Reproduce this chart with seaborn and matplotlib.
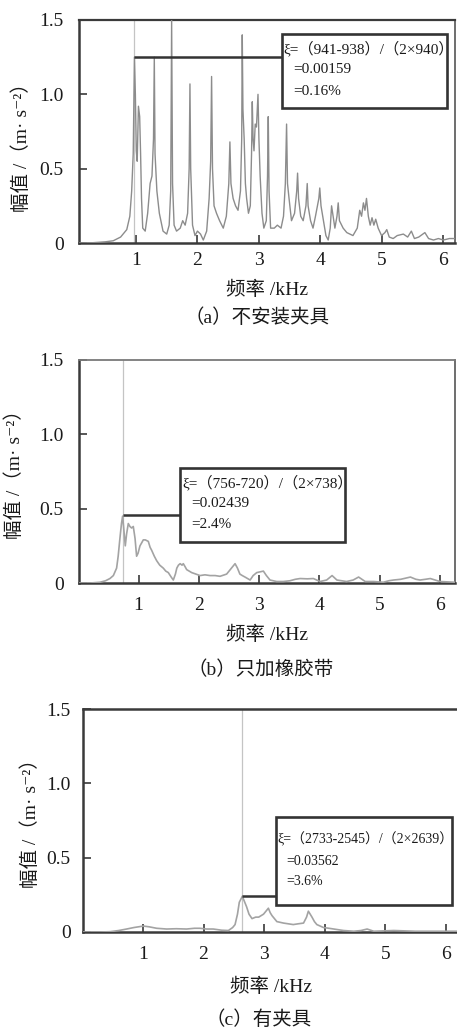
import matplotlib
matplotlib.use("Agg")
import matplotlib.pyplot as plt
from matplotlib.patches import Rectangle
import seaborn as sns
import pandas as pd

# ---------------- data ----------------
freq_a = [0.07, 0.30, 0.50, 0.63, 0.75, 0.85, 0.90, 0.93, 0.955, 0.975, 0.99, 1.005, 1.02, 1.04, 1.06,
          1.075, 1.09, 1.11, 1.15, 1.19, 1.23, 1.26, 1.285, 1.298, 1.31, 1.34, 1.38, 1.44, 1.50, 1.54,
          1.565, 1.58, 1.595, 1.62, 1.66, 1.72, 1.76, 1.80, 1.84, 1.865, 1.878, 1.89, 1.92, 1.96, 2.00,
          2.05, 2.095, 2.15, 2.19, 2.215, 2.230, 2.245, 2.27, 2.31, 2.36, 2.42, 2.47, 2.51, 2.528, 2.545,
          2.58, 2.62, 2.66, 2.70, 2.72, 2.729, 2.74, 2.76, 2.78, 2.80, 2.83, 2.86, 2.88, 2.892, 2.905,
          2.92, 2.94, 2.96, 2.985, 3.00, 3.02, 3.05, 3.08, 3.12, 3.14, 3.152, 3.165, 3.19, 3.25, 3.30,
          3.36, 3.40, 3.43, 3.450, 3.465, 3.49, 3.53, 3.58, 3.615, 3.629, 3.645, 3.68, 3.72, 3.765, 3.786,
          3.80, 3.84, 3.88, 3.92, 3.975, 3.99, 4.01, 4.05, 4.09, 4.127, 4.16, 4.182, 4.20, 4.236, 4.27,
          4.29, 4.31, 4.37, 4.43, 4.53, 4.60, 4.64, 4.67, 4.70, 4.725, 4.75, 4.78, 4.81, 4.84, 4.87,
          4.90, 4.94, 4.995, 5.05, 5.08, 5.12, 5.184, 5.25, 5.35, 5.42, 5.48, 5.53, 5.60, 5.70, 5.76,
          5.84, 5.92, 6.00, 6.10, 6.20]
amp_a = [0.0, 0.002, 0.008, 0.015, 0.04, 0.09, 0.18, 0.35, 0.6, 1.25, 1.0, 0.62, 0.55, 0.92, 0.85,
         0.6, 0.3, 0.1, 0.08, 0.2, 0.4, 0.45, 0.7, 1.25, 0.6, 0.35, 0.2, 0.08, 0.06, 0.12,
         0.35, 1.5, 0.4, 0.12, 0.08, 0.1, 0.15, 0.12, 0.2, 0.5, 1.07, 0.5, 0.12, 0.05, 0.08,
         0.06, 0.02, 0.08, 0.3, 0.55, 1.12, 0.5, 0.25, 0.2, 0.15, 0.1, 0.18, 0.4, 0.68, 0.4,
         0.3, 0.25, 0.22, 0.35, 0.7, 1.4, 0.9, 0.7, 0.4, 0.3, 0.2, 0.25, 0.6, 0.95, 0.7,
         0.62, 0.8, 0.78, 1.0, 0.7, 0.45, 0.2, 0.1, 0.15, 0.45, 0.85, 0.35, 0.1, 0.1, 0.12,
         0.1, 0.18, 0.4, 0.8, 0.4, 0.3, 0.15, 0.2, 0.35, 0.47, 0.3, 0.18, 0.15, 0.25, 0.4,
         0.25, 0.15, 0.1, 0.18, 0.3, 0.37, 0.25, 0.15, 0.05, 0.02, 0.1, 0.25, 0.2, 0.1, 0.18,
         0.27, 0.15, 0.1, 0.07, 0.05, 0.1, 0.22, 0.18, 0.27, 0.22, 0.3, 0.18, 0.12, 0.17, 0.12,
         0.16, 0.1, 0.05, 0.07, 0.09, 0.04, 0.03, 0.05, 0.06, 0.04, 0.08, 0.03, 0.04, 0.07, 0.03,
         0.02, 0.03, 0.02, 0.03, 0.03]

freq_b = [0.01, 0.20, 0.357, 0.45, 0.523, 0.58, 0.634, 0.66, 0.689, 0.715, 0.734, 0.756, 0.778, 0.80,
          0.828, 0.855, 0.883, 0.911, 0.94, 0.966, 0.99, 1.022, 1.05, 1.077, 1.11, 1.16, 1.19, 1.216,
          1.26, 1.299, 1.35, 1.409, 1.45, 1.492, 1.54, 1.575, 1.61, 1.633, 1.66, 1.689, 1.72, 1.741,
          1.77, 1.797, 1.88, 1.95, 2.019, 2.10, 2.185, 2.27, 2.35, 2.46, 2.54, 2.60, 2.64, 2.68, 2.72,
          2.765, 2.85, 2.90, 2.96, 3.07, 3.12, 3.18, 3.29, 3.40, 3.51, 3.60, 3.68, 3.80, 3.90, 4.01,
          4.12, 4.21, 4.29, 4.45, 4.56, 4.65, 4.76, 4.90, 5.06, 5.15, 5.23, 5.35, 5.51, 5.60, 5.67,
          5.76, 5.84, 5.92, 6.00, 6.25]
amp_b = [0.0, 0.0, 0.005, 0.015, 0.03, 0.05, 0.1, 0.18, 0.3, 0.4, 0.45, 0.35, 0.25, 0.33,
         0.4, 0.38, 0.37, 0.38, 0.3, 0.18, 0.2, 0.25, 0.27, 0.29, 0.29, 0.28, 0.24, 0.22,
         0.18, 0.15, 0.12, 0.1, 0.08, 0.07, 0.04, 0.02, 0.06, 0.1, 0.12, 0.13, 0.12, 0.13,
         0.11, 0.09, 0.07, 0.06, 0.05, 0.055, 0.05, 0.05, 0.045, 0.06, 0.1, 0.13, 0.1, 0.06, 0.05,
         0.04, 0.02, 0.05, 0.07, 0.08, 0.05, 0.02, 0.01, 0.01, 0.015, 0.025, 0.03, 0.028, 0.03, 0.01,
         0.02, 0.05, 0.02, 0.01, 0.02, 0.04, 0.01, 0.01, 0.005, 0.015, 0.02, 0.025, 0.04, 0.025, 0.02,
         0.025, 0.03, 0.02, 0.01, 0.005]

freq_c = [0.01, 0.30, 0.455, 0.60, 0.73, 0.85, 1.006, 1.10, 1.226, 1.39, 1.55, 1.72, 1.85, 1.94,
          2.05, 2.16, 2.30, 2.41, 2.48, 2.52, 2.56, 2.59, 2.64, 2.68, 2.71, 2.75, 2.80, 2.86, 2.91,
          2.99, 3.03, 3.07, 3.10, 3.13, 3.21, 3.32, 3.40, 3.48, 3.56, 3.65, 3.70, 3.73, 3.76, 3.79,
          3.83, 3.87, 3.98, 4.07, 4.15, 4.31, 4.48, 4.60, 4.70, 4.81, 5.14, 5.50, 6.18]
amp_c = [0.0, 0.0, 0.002, 0.01, 0.02, 0.03, 0.04, 0.035, 0.025, 0.02, 0.022, 0.02, 0.025, 0.025,
         0.02, 0.02, 0.012, 0.01, 0.03, 0.05, 0.12, 0.2, 0.24, 0.2, 0.17, 0.12, 0.09, 0.1, 0.1,
         0.12, 0.14, 0.16, 0.13, 0.11, 0.07, 0.06, 0.055, 0.05, 0.055, 0.06, 0.1, 0.14, 0.12, 0.1,
         0.07, 0.05, 0.03, 0.025, 0.02, 0.01, 0.005, 0.01, 0.02, 0.005, 0.01, 0.005, 0.005]

# resonance frequency (kHz) and half-power annotation level
res_freq = [0.975, 0.738, 2.639]
res_level = [1.25, 0.46, 0.242]
formula_lines = [
    ["ξ=（941-938）/（2×940）", "=0.00159", "=0.16%"],
    ["ξ=（756-720）/（2×738）", "=0.02439", "=2.4%"],
    ["ξ=（2733-2545）/（2×2639）", "=0.03562", "=3.6%"],
]
captions = ["（a）不安装夹具", "（b）只加橡胶带", "（c）有夹具"]
ylabel = "幅值 /（m· s⁻²）"
xlabel = "频率 /kHz"
yticks = [0, 0.5, 1.0, 1.5]
yticklabels = ["0", "0.5", "1.0", "1.5"]
xticks = [1, 2, 3, 4, 5, 6]
xticklabels = ["1", "2", "3", "4", "5", "6"]

# ---------------- style ----------------
sns.set_style("ticks")
FAM = ["Liberation Serif", "Noto Sans CJK SC", "DejaVu Sans"]
plt.rcParams["font.family"] = FAM

fig = plt.figure(figsize=(4.57, 10.32), dpi=100)
W, H = 457.0, 1032.0

layouts = [
    dict(l=79, r=455, t=20, b=243, xlim=(0.073, 6.19), tpad=6.5, ypad=11,
         ylab=(-0.152, 0.45), xlab_dy=47, cap_y=318, cap_x=257, top_c="#3a3a3a", top_w=1.6,
         box=(3.37, 0.908, 6.06, 1.405), txt_x=(3.40, 3.56), txt_y=(1.311, 1.17, 1.022),
         color="#8c8c8c", lw=1.0, fs=11),
    dict(l=79, r=455, t=360, b=583, xlim=(0.01, 6.25), tpad=10, ypad=11,
         ylab=(-0.17, 0.507), xlab_dy=52, cap_y=670, cap_x=261, top_c="#7a7a7a", top_w=1.3,
         box=(1.69, 0.278, 4.43, 0.776), txt_x=(1.72, 1.88), txt_y=(0.675, 0.536, 0.395),
         color="#a3a3a3", lw=1.2, fs=11),
    dict(l=83, r=458, t=709, b=932, xlim=(0.01, 6.2), tpad=10, ypad=9,
         ylab=(-0.139, 0.51), xlab_dy=55, cap_y=1020, cap_x=259, top_c="#3a3a3a", top_w=1.8,
         box=(3.2, 0.18, 6.1, 0.775), txt_x=(3.22, 3.37), txt_y=(0.623, 0.477, 0.338),
         color="#a3a3a3", lw=1.2, fs=10),
]

data = [(freq_a, amp_a), (freq_b, amp_b), (freq_c, amp_c)]

for i, (lay, (fx, fy)) in enumerate(zip(layouts, data)):
    ax = fig.add_axes([lay["l"] / W, 1 - lay["b"] / H, (lay["r"] - lay["l"]) / W, (lay["b"] - lay["t"]) / H])
    df = pd.DataFrame({"freq": fx, "amp": fy})
    sns.lineplot(data=df, x="freq", y="amp", ax=ax, color=lay["color"], lw=lay["lw"],
                 estimator=None, sort=False, zorder=3)
    ax.set_xlim(*lay["xlim"])
    ax.set_ylim(0, 1.5)
    ax.set_xticks(xticks)
    ax.set_xticklabels(xticklabels)
    ax.set_yticks(yticks)
    ax.set_yticklabels(yticklabels)
    ax.tick_params(axis="x", direction="in", length=6, width=1.2, colors="#3a3a3a",
                   labelcolor="#1a1a1a", labelsize=14, pad=lay["tpad"])
    ax.tick_params(axis="y", direction="in", length=6, width=1.2, colors="#3a3a3a",
                   labelcolor="#1a1a1a", labelsize=14, pad=lay["ypad"])
    for side in ["left", "bottom"]:
        ax.spines[side].set_color("#3a3a3a")
        ax.spines[side].set_linewidth(1.8)
    ax.spines["right"].set_color("#555555")
    ax.spines["right"].set_linewidth(1.2)
    ax.spines["top"].set_color(lay["top_c"])
    ax.spines["top"].set_linewidth(lay["top_w"])
    ax.spines["top"].set_visible(True)
    ax.spines["right"].set_visible(True)

    ax.axvline(res_freq[i], color="#c4c4c4", lw=0.9, zorder=2)
    bx0, by0, bx1, by1 = lay["box"]
    ax.plot([res_freq[i], bx0], [res_level[i], res_level[i]], color="#333333", lw=1.8, zorder=4,
            solid_capstyle="butt")
    ax.add_patch(Rectangle((bx0, by0), bx1 - bx0, by1 - by0, fill=True, facecolor="white",
                           edgecolor="#333333", lw=1.9, zorder=5))
    lines = formula_lines[i]
    fs = lay["fs"]
    ax.text(lay["txt_x"][0], lay["txt_y"][0], lines[0], fontsize=fs, ha="left", va="center",
            family=FAM, color="#1a1a1a", zorder=6)
    ax.text(lay["txt_x"][1], lay["txt_y"][1], lines[1], fontsize=fs, ha="left", va="center",
            family=FAM, color="#1a1a1a", zorder=6)
    ax.text(lay["txt_x"][1], lay["txt_y"][2], lines[2], fontsize=fs, ha="left", va="center",
            family=FAM, color="#1a1a1a", zorder=6)

    ax.set_ylabel(ylabel, fontsize=14, color="#1a1a1a")
    ax.yaxis.set_label_coords(*lay["ylab"])
    ax.yaxis.label.set_va("center")
    ax.set_xlabel(xlabel, fontsize=14, color="#1a1a1a")
    ax.xaxis.label.set_va("center")
    ax.xaxis.set_label_coords(0.5, -lay["xlab_dy"] / (lay["b"] - lay["t"]))
    fig.text(lay["cap_x"] / W, 1 - lay["cap_y"] / H, captions[i], fontsize=14, ha="center",
             va="center", color="#1a1a1a", family=FAM)

fig.savefig("out.png", dpi=100)
